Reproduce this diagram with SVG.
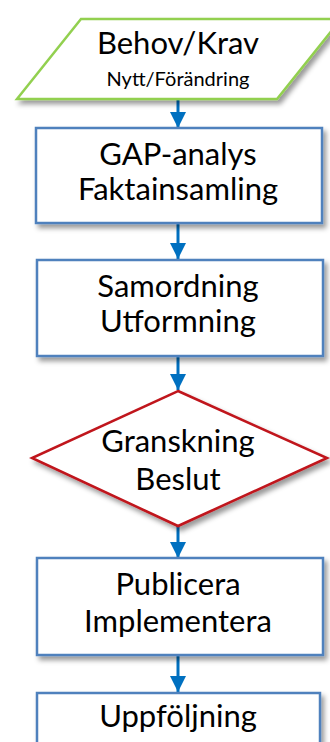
<svg xmlns="http://www.w3.org/2000/svg" width="330" height="742" viewBox="0 0 330 742">
<style>
.t{font-family:Lato,"Open Sans","Liberation Sans",sans-serif;font-size:31px;fill:#000;text-anchor:middle}
.s{font-size:20px}
.box{fill:#fff;stroke:#4F81BD;stroke-width:2.5}
.conn{stroke:#0070C0;stroke-width:3;fill:none}
</style>
<defs>
<filter id="sh" x="-10%" y="-10%" width="130%" height="140%">
<feDropShadow dx="3" dy="4" stdDeviation="2.5" flood-color="#000" flood-opacity="0.4"/>
</filter>
<marker id="ah" markerUnits="userSpaceOnUse" markerWidth="18" markerHeight="16" refX="18" refY="9" orient="auto" viewBox="0 0 18 18">
<path d="M0,0 L18,9 L0,18 Z" fill="#0070C0"/>
</marker>
</defs>
<rect width="330" height="742" fill="#fff"/>
<g id="connectors">
<line class="conn" x1="178" y1="100" x2="178" y2="128" marker-end="url(#ah)"/>
<line class="conn" x1="178" y1="223" x2="178" y2="259" marker-end="url(#ah)"/>
<line class="conn" x1="178" y1="356" x2="178" y2="390" marker-end="url(#ah)"/>
<line class="conn" x1="178" y1="526" x2="178" y2="558" marker-end="url(#ah)"/>
<line class="conn" x1="178" y1="655" x2="178" y2="692" marker-end="url(#ah)"/>
</g>
<g id="n1">
<polygon points="81,19 341,19 277,99 17,99" fill="#fff" stroke="#92D050" stroke-width="2.5" filter="url(#sh)"/>
<text class="t" x="178" y="54">Behov/Krav</text>
<text class="t s" x="178" y="86">Nytt/Förändring</text>
</g>
<g id="n2">
<rect class="box" x="36" y="128" width="286" height="95" filter="url(#sh)"/>
<text class="t" x="178" y="165">GAP-analys</text>
<text class="t" x="178" y="200">Faktainsamling</text>
</g>
<g id="n3">
<rect class="box" x="37" y="260" width="286" height="96" filter="url(#sh)"/>
<text class="t" x="178" y="297">Samordning</text>
<text class="t" x="178" y="332">Utformning</text>
</g>
<g id="n4">
<polygon points="178,391 327,458 178,526 32,458" fill="#fff" stroke="#C0141C" stroke-width="2.5" filter="url(#sh)"/>
<text class="t" x="178" y="452">Granskning</text>
<text class="t" x="178" y="490">Beslut</text>
</g>
<g id="n5">
<rect class="box" x="37" y="558" width="286" height="97" filter="url(#sh)"/>
<text class="t" x="178" y="595">Publicera</text>
<text class="t" x="178" y="632">Implementera</text>
</g>
<g id="n6">
<rect class="box" x="37" y="693" width="283" height="80" filter="url(#sh)"/>
<text class="t" x="178" y="727">Uppföljning</text>
</g>
</svg>
